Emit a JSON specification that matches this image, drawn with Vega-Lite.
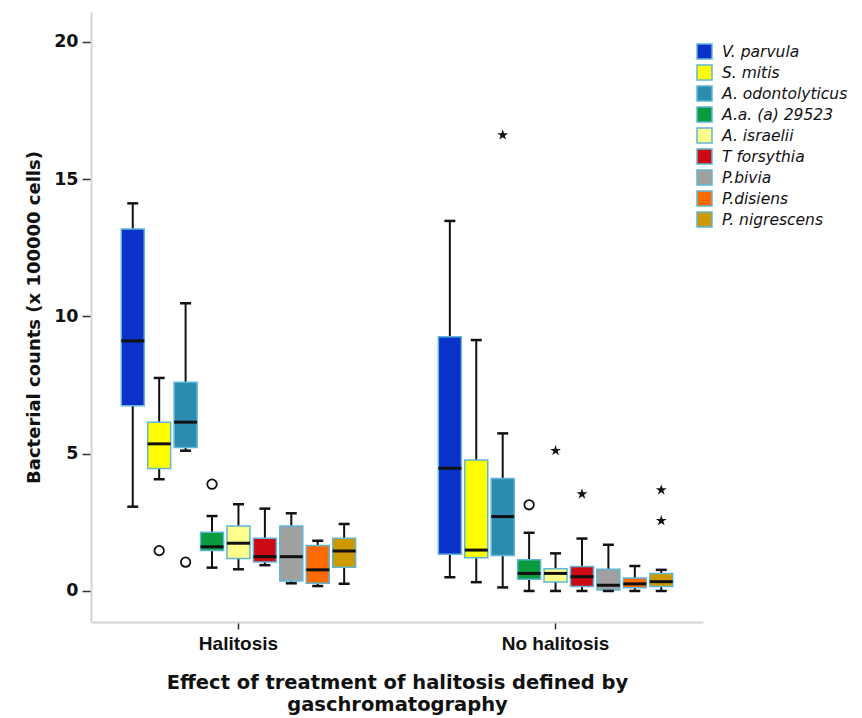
{
  "$schema": "https://vega.github.io/schema/vega-lite/v6.json",
  "width": 612,
  "height": 610,
  "autosize": {"type": "none"},
  "padding": {"left": 91, "top": 12, "right": 159, "bottom": 96},
  "background": "white",
  "config": {
    "view": {"stroke": null},
    "axis": {"grid": false}
  },
  "datasets": {
    "boxes": [
      {"group": "Halitosis", "species": "V. parvula", "lo": 3.07, "q1": 6.75, "med": 9.11, "q3": 13.19, "hi": 14.12},
      {"group": "Halitosis", "species": "S. mitis", "lo": 4.07, "q1": 4.46, "med": 5.36, "q3": 6.15, "hi": 7.76},
      {"group": "Halitosis", "species": "A. odontolyticus", "lo": 5.11, "q1": 5.23, "med": 6.15, "q3": 7.6, "hi": 10.48},
      {"group": "Halitosis", "species": "A.a. (a) 29523", "lo": 0.85, "q1": 1.47, "med": 1.61, "q3": 2.14, "hi": 2.73},
      {"group": "Halitosis", "species": "A. israelii", "lo": 0.79, "q1": 1.18, "med": 1.74, "q3": 2.37, "hi": 3.16},
      {"group": "Halitosis", "species": "T forsythia", "lo": 0.94, "q1": 1.06, "med": 1.25, "q3": 1.92, "hi": 3.0},
      {"group": "Halitosis", "species": "P.bivia", "lo": 0.28, "q1": 0.36, "med": 1.25, "q3": 2.37, "hi": 2.83},
      {"group": "Halitosis", "species": "P.disiens", "lo": 0.18, "q1": 0.28, "med": 0.77, "q3": 1.66, "hi": 1.83},
      {"group": "Halitosis", "species": "P. nigrescens", "lo": 0.26, "q1": 0.86, "med": 1.46, "q3": 1.92, "hi": 2.44},
      {"group": "No halitosis", "species": "V. parvula", "lo": 0.5, "q1": 1.34, "med": 4.47, "q3": 9.26, "hi": 13.48},
      {"group": "No halitosis", "species": "S. mitis", "lo": 0.32, "q1": 1.21, "med": 1.49, "q3": 4.77, "hi": 9.14},
      {"group": "No halitosis", "species": "A. odontolyticus", "lo": 0.13, "q1": 1.29, "med": 2.71, "q3": 4.1, "hi": 5.74},
      {"group": "No halitosis", "species": "A.a. (a) 29523", "lo": 0.0, "q1": 0.43, "med": 0.64, "q3": 1.14, "hi": 2.12},
      {"group": "No halitosis", "species": "A. israelii", "lo": 0.0, "q1": 0.33, "med": 0.64, "q3": 0.81, "hi": 1.37},
      {"group": "No halitosis", "species": "T forsythia", "lo": 0.0, "q1": 0.16, "med": 0.52, "q3": 0.89, "hi": 1.91},
      {"group": "No halitosis", "species": "P.bivia", "lo": 0.0, "q1": 0.04, "med": 0.21, "q3": 0.79, "hi": 1.68},
      {"group": "No halitosis", "species": "P.disiens", "lo": 0.0, "q1": 0.12, "med": 0.26, "q3": 0.47, "hi": 0.91},
      {"group": "No halitosis", "species": "P. nigrescens", "lo": 0.0, "q1": 0.16, "med": 0.34, "q3": 0.64, "hi": 0.77}
    ],
    "outliers": [
      {"group": "Halitosis", "species": "S. mitis", "value": 1.47, "kind": "circle"},
      {"group": "Halitosis", "species": "A. odontolyticus", "value": 1.05, "kind": "circle"},
      {"group": "Halitosis", "species": "A.a. (a) 29523", "value": 3.89, "kind": "circle"},
      {"group": "No halitosis", "species": "A. odontolyticus", "value": 16.61, "kind": "star"},
      {"group": "No halitosis", "species": "A.a. (a) 29523", "value": 3.14, "kind": "circle"},
      {"group": "No halitosis", "species": "A. israelii", "value": 5.11, "kind": "star"},
      {"group": "No halitosis", "species": "T forsythia", "value": 3.53, "kind": "star"},
      {"group": "No halitosis", "species": "P. nigrescens", "value": 3.68, "kind": "star"},
      {"group": "No halitosis", "species": "P. nigrescens", "value": 2.56, "kind": "star"}
    ]
  },
  "encoding": {
    "x": {
      "field": "group", "type": "nominal",
      "scale": {"paddingInner": 0.25, "paddingOuter": 0.09},
      "axis": {
        "labelAngle": 0,
        "labelFont": "Liberation Sans", "labelFontSize": 19, "labelFontWeight": "bold", "labelColor": "#111", "labelPadding": 5,
        "domainColor": "#d4d4d4", "domainWidth": 2,
        "tickColor": "#333", "tickSize": 7, "tickWidth": 1.5,
        "title": ["Effect of treatment of halitosis defined by", "gaschromatography"],
        "titleFont": "DejaVu Sans", "titleFontSize": 19.5, "titleFontWeight": "bold", "titleColor": "#111",
        "titlePadding": 20, "titleLineHeight": 22
      }
    },
    "xOffset": {
      "field": "species", "type": "nominal",
      "sort": ["V. parvula", "S. mitis", "A. odontolyticus", "A.a. (a) 29523", "A. israelii", "T forsythia", "P.bivia", "P.disiens", "P. nigrescens"],
      "scale": {"paddingInner": 0.13, "paddingOuter": 0.065}
    }
  },
  "layer": [
    {
      "data": {"name": "boxes"},
      "mark": {"type": "rule", "color": "#111", "strokeWidth": 2},
      "encoding": {
        "y": {"field": "lo", "type": "quantitative",
          "scale": {"domain": [-1.13, 21.09], "nice": false, "zero": false},
          "axis": {
            "values": [0, 5, 10, 15, 20],
            "labelFont": "DejaVu Sans", "labelFontSize": 17.5, "labelFontWeight": "bold", "labelColor": "#111", "labelPadding": 4,
            "domainColor": "#d4d4d4", "domainWidth": 2,
            "tickColor": "#333", "tickSize": 9, "tickWidth": 1.5,
            "title": "Bacterial counts (x 100000 cells)",
            "titleFont": "DejaVu Sans", "titleFontSize": 18, "titleFontWeight": "bold", "titleColor": "#111",
            "titlePadding": 10
          }
        },
        "y2": {"field": "hi"}
      }
    },
    {
      "data": {"name": "boxes"},
      "mark": {"type": "bar", "stroke": "#5fb6d6", "strokeWidth": 1.5, "opacity": 1},
      "encoding": {
        "y": {"field": "q1", "type": "quantitative"},
        "y2": {"field": "q3"},
        "color": {
          "field": "species", "type": "nominal",
          "scale": {
            "domain": ["V. parvula", "S. mitis", "A. odontolyticus", "A.a. (a) 29523", "A. israelii", "T forsythia", "P.bivia", "P.disiens", "P. nigrescens"],
            "range": ["#0a32c8", "#ffff00", "#2b8cb0", "#0a9b3c", "#ffff8c", "#cc0a14", "#a0a0a0", "#ff6a00", "#cc9a00"]
          },
          "legend": {
            "title": null,
            "orient": "none", "legendX": 605, "legendY": 31,
            "symbolType": "square", "symbolSize": 225,
            "symbolStrokeColor": "#5fb6d6", "symbolStrokeWidth": 1.5, "symbolOpacity": 1,
            "labelFont": "DejaVu Sans", "labelFontStyle": "italic", "labelFontSize": 15.5, "labelColor": "#111",
            "labelOffset": 9, "rowPadding": 0, "padding": 0, "labelLimit": 300
          }
        }
      }
    },
    {
      "data": {"name": "boxes"},
      "mark": {"type": "tick", "color": "#111", "size": 23, "thickness": 3, "opacity": 1},
      "encoding": {"y": {"field": "med", "type": "quantitative"}}
    },
    {
      "data": {"name": "boxes"},
      "mark": {"type": "tick", "color": "#111", "size": 11, "thickness": 2.5, "opacity": 1},
      "encoding": {"y": {"field": "lo", "type": "quantitative"}}
    },
    {
      "data": {"name": "boxes"},
      "mark": {"type": "tick", "color": "#111", "size": 11, "thickness": 2.5, "opacity": 1},
      "encoding": {"y": {"field": "hi", "type": "quantitative"}}
    },
    {
      "data": {"name": "outliers"},
      "transform": [{"filter": "datum.kind === 'circle'"}],
      "mark": {"type": "point", "shape": "circle", "filled": false, "color": "#111", "strokeWidth": 1.8, "size": 90, "opacity": 1},
      "encoding": {"y": {"field": "value", "type": "quantitative"}}
    },
    {
      "data": {"name": "outliers"},
      "transform": [{"filter": "datum.kind === 'star'"}],
      "mark": {"type": "point", "shape": "M0,-1L0.2245,-0.309L0.951,-0.309L0.363,0.118L0.588,0.809L0,0.382L-0.588,0.809L-0.363,0.118L-0.951,-0.309L-0.2245,-0.309Z", "filled": true, "color": "#111", "size": 130, "opacity": 1},
      "encoding": {"y": {"field": "value", "type": "quantitative"}}
    }
  ]
}
